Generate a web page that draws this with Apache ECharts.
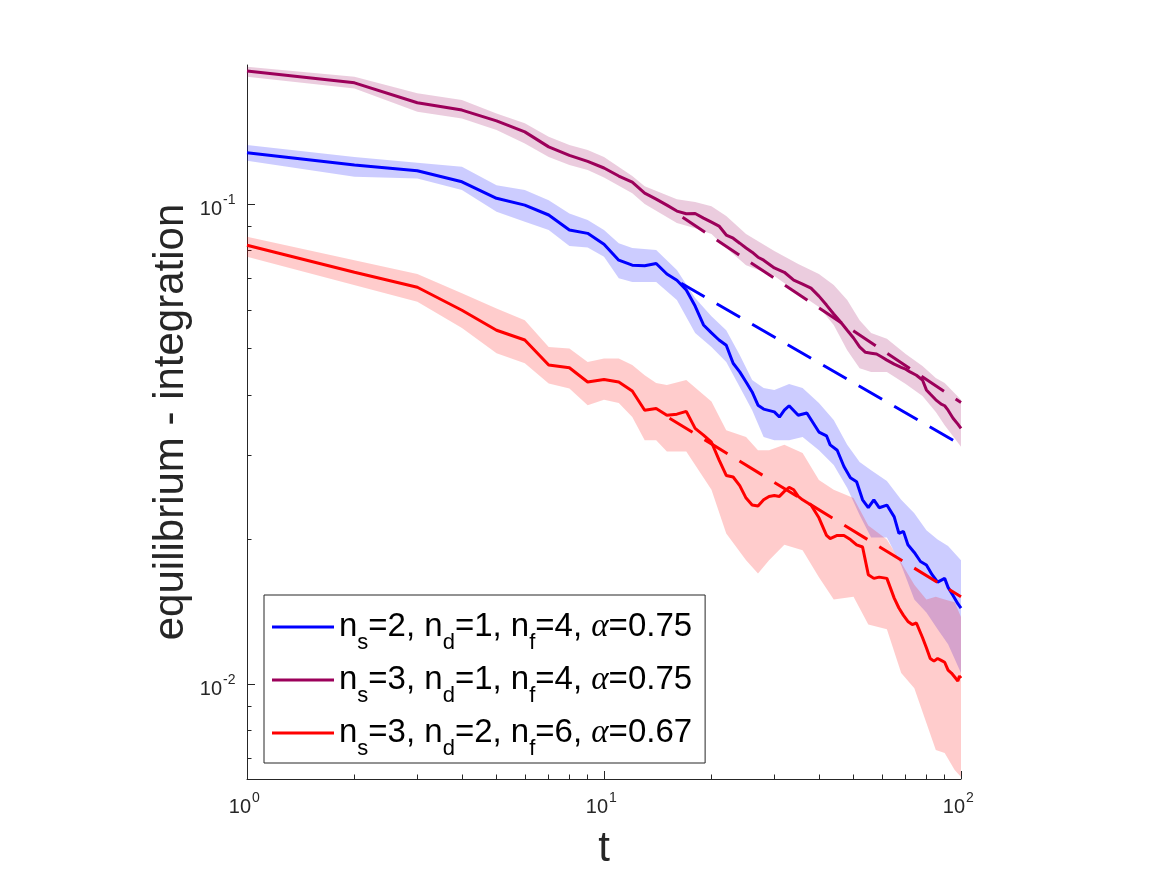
<!DOCTYPE html>
<html>
<head>
<meta charset="utf-8">
<script src="https://cdn.jsdelivr.net/npm/echarts@6/dist/echarts.min.js"></script>
<style>
  html, body { margin: 0; padding: 0; background: #fff; }
  #chart { width: 1167px; height: 875px; }
</style>
</head>
<body>
<div id="chart"></div>
<script>
// 平均値の推移 [t, 値]（両対数）
const blueMean = [
  [1, 0.1279], [2, 0.1206], [3, 0.1173], [4, 0.1113], [5, 0.1028], [6, 0.0995], [7, 0.0949], [8, 0.0883],
  [9, 0.0869], [10, 0.0825], [11, 0.0764], [12, 0.0746], [13, 0.0744], [14, 0.0752], [15, 0.0715], [16, 0.0694],
  [17, 0.0662], [18, 0.0613], [19, 0.0560], [20, 0.0539], [21, 0.0521], [22, 0.0508], [23, 0.0466], [24, 0.0447],
  [25, 0.0426], [26, 0.0406], [27, 0.0381], [28, 0.0374], [30, 0.0369], [31, 0.0360], [32, 0.0372], [33, 0.0380],
  [35, 0.0363], [37, 0.0367], [40, 0.0335], [42, 0.0329], [43, 0.0315], [45, 0.0307], [47, 0.0284], [49, 0.0269],
  [51, 0.0264], [53, 0.0242], [55, 0.0233], [57, 0.0242], [59, 0.0233], [62, 0.0236], [65, 0.0223], [67, 0.0206],
  [69, 0.0208], [71, 0.0195], [74, 0.0188], [77, 0.0180], [80, 0.0177], [83, 0.0169], [86, 0.0163], [90, 0.0166],
  [92, 0.0159], [95, 0.0153], [98, 0.0147], [100, 0.0144],
];
const purpleMean = [
  [1, 0.1893], [2, 0.1789], [3, 0.1626], [4, 0.1570], [5, 0.1491], [6, 0.1414], [7, 0.1316], [8, 0.1263],
  [9, 0.1227], [10, 0.1189], [11, 0.1144], [12, 0.1111], [13, 0.1054], [14, 0.1024], [15, 0.0995], [16, 0.0967],
  [17, 0.0955], [18, 0.0956], [19, 0.0935], [20, 0.0917], [21, 0.0900], [22, 0.0862], [23, 0.0849], [24, 0.0829],
  [25, 0.0810], [26, 0.0794], [27, 0.0775], [28, 0.0764], [30, 0.0736], [32, 0.0721], [34, 0.0694], [36, 0.0681],
  [38, 0.0668], [40, 0.0643], [42, 0.0616], [44, 0.0590], [46, 0.0568], [48, 0.0546], [50, 0.0526], [52, 0.0504],
  [54, 0.0491], [56, 0.0489], [58, 0.0487], [60, 0.0480], [62, 0.0473], [65, 0.0464], [68, 0.0457], [70, 0.0453],
  [72, 0.0447], [75, 0.0440], [78, 0.0430], [80, 0.0410], [82, 0.0402], [85, 0.0391], [88, 0.0383], [90, 0.0380],
  [92, 0.0372], [95, 0.0358], [98, 0.0348], [100, 0.0341],
];
const redMean = [
  [1, 0.0821], [2, 0.0721], [3, 0.0671], [4, 0.0601], [5, 0.0546], [6, 0.0521], [7, 0.0462], [8, 0.0456],
  [9, 0.0426], [10, 0.0431], [11, 0.0426], [12, 0.0408], [13, 0.0372], [14, 0.0375], [15, 0.0363], [16, 0.0365],
  [17, 0.0370], [18, 0.0341], [19, 0.0330], [20, 0.0319], [21, 0.0293], [22, 0.0272], [23, 0.0270], [24, 0.0259],
  [25, 0.0244], [26, 0.0236], [27, 0.0235], [28, 0.0242], [29, 0.0246], [30, 0.0247], [31, 0.0246], [32, 0.0252],
  [33, 0.0257], [34, 0.0254], [35, 0.0246], [36, 0.0242], [38, 0.0236], [40, 0.0222], [42, 0.0204], [43, 0.0201],
  [45, 0.0204], [47, 0.0204], [49, 0.0200], [51, 0.0195], [53, 0.0193], [55, 0.0169], [57, 0.0166], [59, 0.0167],
  [62, 0.0166], [65, 0.0151], [67, 0.0144], [69, 0.0139], [71, 0.0135], [73, 0.0133], [75, 0.0134], [78, 0.0125],
  [80, 0.0119], [82, 0.0113], [84, 0.01116], [86, 0.0113], [88, 0.0112], [90, 0.0111], [92, 0.01069], [94, 0.01054],
  [96, 0.01034], [98, 0.01014], [99, 0.01039], [100, 0.01029],
];

// 帯（ばらつき）[t, 下限, 上限]
const blueBand = [
  [1, 0.1231, 0.1327], [2, 0.1140, 0.1254], [3, 0.1131, 0.1219], [4, 0.1070, 0.1196], [5, 0.0964, 0.1095],
  [6, 0.0919, 0.1070], [7, 0.0883, 0.1019], [8, 0.0818, 0.0956], [9, 0.0812, 0.0926], [10, 0.0777, 0.0883],
  [11, 0.0701, 0.0829], [12, 0.0688, 0.0810], [14, 0.0688, 0.0802], [16, 0.0631, 0.0729], [18, 0.0539, 0.0637],
  [20, 0.0504, 0.0584], [22, 0.0469, 0.0546], [24, 0.0416, 0.0485], [26, 0.0372, 0.0430], [28, 0.0327, 0.0414],
  [30, 0.0322, 0.0410], [33, 0.0322, 0.0422], [36, 0.0327, 0.0414], [40, 0.0307, 0.0385], [44, 0.0286, 0.0355],
  [48, 0.0256, 0.0315], [52, 0.0225, 0.0290], [56, 0.0202, 0.0279], [62, 0.0202, 0.0265], [68, 0.0177, 0.0242],
  [74, 0.0150, 0.0227], [80, 0.0141, 0.0209], [86, 0.0130, 0.0200], [92, 0.0121, 0.0194], [100, 0.01054, 0.0181],
];
const purpleBand = [
  [1, 0.1842, 0.1932], [2, 0.1742, 0.1842], [3, 0.1557, 0.1701], [4, 0.1508, 0.1647], [5, 0.1426, 0.1545],
  [6, 0.1338, 0.1473], [7, 0.1254, 0.1381], [8, 0.1206, 0.1327], [9, 0.1177, 0.1296], [10, 0.1136, 0.1253],
  [12, 0.1054, 0.1144], [13, 0.1000, 0.1090], [16, 0.0913, 0.1024], [18, 0.0891, 0.1010], [20, 0.0866, 0.0990],
  [22, 0.0810, 0.0944], [25, 0.0746, 0.0866], [30, 0.0708, 0.0798], [35, 0.0653, 0.0750], [40, 0.0610, 0.0715],
  [44, 0.0560, 0.0678], [48, 0.0496, 0.0631], [52, 0.0455, 0.0573], [56, 0.0447, 0.0539], [62, 0.0447, 0.0524],
  [70, 0.0422, 0.0487], [78, 0.0398, 0.0460], [85, 0.0369, 0.0434], [90, 0.0346, 0.0424], [100, 0.0312, 0.0391],
];
const redBand = [
  [1, 0.0777, 0.0855], [3, 0.0626, 0.0715], [4, 0.0552, 0.0652], [5, 0.0489, 0.0606], [6, 0.0466, 0.0573],
  [7, 0.0423, 0.0504], [8, 0.0413, 0.0500], [9, 0.0381, 0.0469], [10, 0.0391, 0.0477], [11, 0.0385, 0.0477],
  [12, 0.0360, 0.0462], [13, 0.0322, 0.0440], [14, 0.0322, 0.0424], [15, 0.0305, 0.0420], [17, 0.0305, 0.0430],
  [20, 0.0254, 0.0388], [22, 0.0206, 0.0338], [25, 0.0181, 0.0327], [27, 0.0170, 0.0307], [29, 0.0181, 0.0307],
  [32, 0.0195, 0.0315], [36, 0.0190, 0.0303], [40, 0.0167, 0.0266], [44, 0.0150, 0.0254], [50, 0.0152, 0.0244],
  [55, 0.0133, 0.0214], [62, 0.0130, 0.0200], [68, 0.01054, 0.0179], [74, 0.0098, 0.0161], [80, 0.00829, 0.0150],
  [85, 0.00729, 0.0152], [90, 0.00718, 0.0150], [96, 0.00662, 0.0148], [100, 0.0064, 0.0138],
];

// べき乗則フィット（破線）
const blueFit = [[16.45, 0.0684], [100, 0.0315]];
const purpleFit = [[16.6, 0.0939], [100, 0.0386]];
const redFit = [[15.26, 0.0358], [100, 0.0152]];

// 目盛り
const xMajor = [1, 10, 100];
const xMinor = [2, 3, 4, 5, 6, 7, 8, 9, 20, 30, 40, 50, 60, 70, 80, 90];
const yMajor = [0.01, 0.1];
const yMinor = [0.007, 0.008, 0.009, 0.02, 0.03, 0.04, 0.05, 0.06, 0.07, 0.08, 0.09];

// 凡例: [n_s, n_d, n_f, alpha]
const legendRows = [[2, 1, 4, '0.75'], [3, 1, 4, '0.75'], [3, 2, 6, '0.67']];

const BLUE = '#0000ff';
const PURPLE = '#9c005a';
const RED = '#ff0000';
const INK = '#262626';
const FONT = '"Liberation Sans", Arial, Helvetica, sans-serif';

const names = legendRows.map((r) => `n_s=${r[0]}, n_d=${r[1]}, n_f=${r[2]}, α=${r[3]}`);
const richNames = {};
legendRows.forEach((r, i) => {
  richNames[names[i]] =
    `{m|n}{sub|s}{m|=${r[0]}, n}{sub|d}{m|=${r[1]}, n}{sub|f}{m|=${r[2]}, }{a|α}{m|=${r[3]}}`;
});

function bandSeries(band, color) {
  return {
    type: 'custom',
    data: band,
    encode: { x: 0, y: [1, 2] },
    clip: true,
    silent: true,
    z: 1,
    renderItem: (params, api) => {
      if (params.dataIndex !== 0) return null;
      const upper = band.map((d) => api.coord([d[0], d[2]]));
      const lower = band.slice().reverse().map((d) => api.coord([d[0], d[1]]));
      return { type: 'polygon', shape: { points: upper.concat(lower) }, style: { fill: color } };
    },
  };
}

function meanSeries(name, data, color) {
  return {
    name, type: 'line', data, symbol: 'none', z: 3,
    lineStyle: { width: 3, color }, itemStyle: { color },
  };
}

function fitSeries(data, color) {
  return {
    type: 'line', data, symbol: 'none', z: 4, silent: true,
    lineStyle: { width: 3, color, type: [27, 14] },
  };
}

const chart = echarts.init(document.getElementById('chart'), null, { renderer: 'canvas' });
chart.setOption({
  animation: false,
  backgroundColor: '#fff',
  grid: { left: 247, top: 65, width: 714, height: 714 },
  xAxis: [
    {
      type: 'log', logBase: 10, min: 1, max: 100,
      name: 't', nameLocation: 'middle', nameGap: 49,
      nameTextStyle: { fontSize: 42, fontFamily: FONT, color: INK },
      axisLine: { lineStyle: { color: INK, width: 1 } },
      axisTick: { inside: true, length: 8, customValues: xMajor, lineStyle: { color: INK } },
      axisLabel: { show: false },
      splitLine: { show: false },
    },
    {
      type: 'log', logBase: 10, min: 1, max: 100, position: 'bottom',
      axisLine: { show: false },
      axisTick: { inside: true, length: 4.5, customValues: xMinor, lineStyle: { color: INK } },
      axisLabel: { show: false },
      splitLine: { show: false },
    },
  ],
  yAxis: [
    {
      type: 'log', logBase: 10, min: 0.00634, max: 0.1949,
      name: 'equilibrium - integration', nameLocation: 'middle', nameGap: 55, nameRotate: 90,
      nameTextStyle: { fontSize: 42, fontFamily: FONT, color: INK },
      axisLine: { lineStyle: { color: INK, width: 1 } },
      axisTick: { inside: true, length: 8, customValues: yMajor, lineStyle: { color: INK } },
      axisLabel: { show: false },
      splitLine: { show: false },
    },
    {
      type: 'log', logBase: 10, min: 0.00634, max: 0.1949, position: 'left',
      axisLine: { show: false },
      axisTick: { inside: true, length: 4.5, customValues: yMinor, lineStyle: { color: INK } },
      axisLabel: { show: false },
      splitLine: { show: false },
    },
  ],
  legend: {
    data: names,
    orient: 'vertical',
    left: 264, top: 595,
    padding: [5, 13, 3, 8],
    icon: 'rect',
    itemWidth: 62, itemHeight: 3, itemGap: -1,
    backgroundColor: '#fff',
    borderColor: INK, borderWidth: 1, borderRadius: 0,
    formatter: (name) => richNames[name],
    textStyle: {
      color: '#000',
      rich: {
        m: { fontSize: 33, fontFamily: FONT, color: '#000', lineHeight: 34 },
        sub: { fontSize: 22, fontFamily: FONT, color: '#000', lineHeight: 23, padding: [32, 0, 0, 0] },
        a: { fontSize: 33, fontFamily: '"Liberation Serif", "DejaVu Serif", serif', fontStyle: 'italic', color: '#000', lineHeight: 34 },
      },
    },
  },
  series: [
    bandSeries(blueBand, 'rgba(0,0,255,0.2)'),
    bandSeries(purpleBand, 'rgba(156,0,90,0.2)'),
    bandSeries(redBand, 'rgba(255,0,0,0.2)'),
    meanSeries(names[0], blueMean, BLUE),
    meanSeries(names[1], purpleMean, PURPLE),
    meanSeries(names[2], redMean, RED),
    fitSeries(blueFit, BLUE),
    fitSeries(purpleFit, PURPLE),
    fitSeries(redFit, RED),
  ],
});

// 目盛りラベル 10^n: title コンポーネントで描く（位置は軸の座標変換から）
function tickTitle(text, left, top, align, size) {
  return {
    text, left, top, padding: 0, itemGap: 0,
    textAlign: align, textVerticalAlign: 'middle',
    textStyle: { fontSize: size, fontWeight: 'normal', fontFamily: FONT, color: INK },
  };
}
function powTitles(anchorX, y, v) {
  const e = String(Math.round(Math.log10(v)));
  return [
    tickTitle('10', anchorX, y, 'right', 20),
    tickTitle(e, anchorX + 1, y - 9, 'left', 14),
  ];
}
const bottomY = chart.convertToPixel({ yAxisIndex: 0 }, 0.00634);
const leftX = chart.convertToPixel({ xAxisIndex: 0 }, 1);
const titles = [];
xMajor.forEach((v) => {
  const px = chart.convertToPixel({ xAxisIndex: 0 }, v);
  titles.push(...powTitles(px + 4, bottomY + 28, v));
});
yMajor.forEach((v) => {
  const py = chart.convertToPixel({ yAxisIndex: 0 }, v);
  titles.push(...powTitles(leftX - 25, py + 5, v));
});
chart.setOption({ title: titles });

window.addEventListener('resize', () => chart.resize());
</script>
</body>
</html>
